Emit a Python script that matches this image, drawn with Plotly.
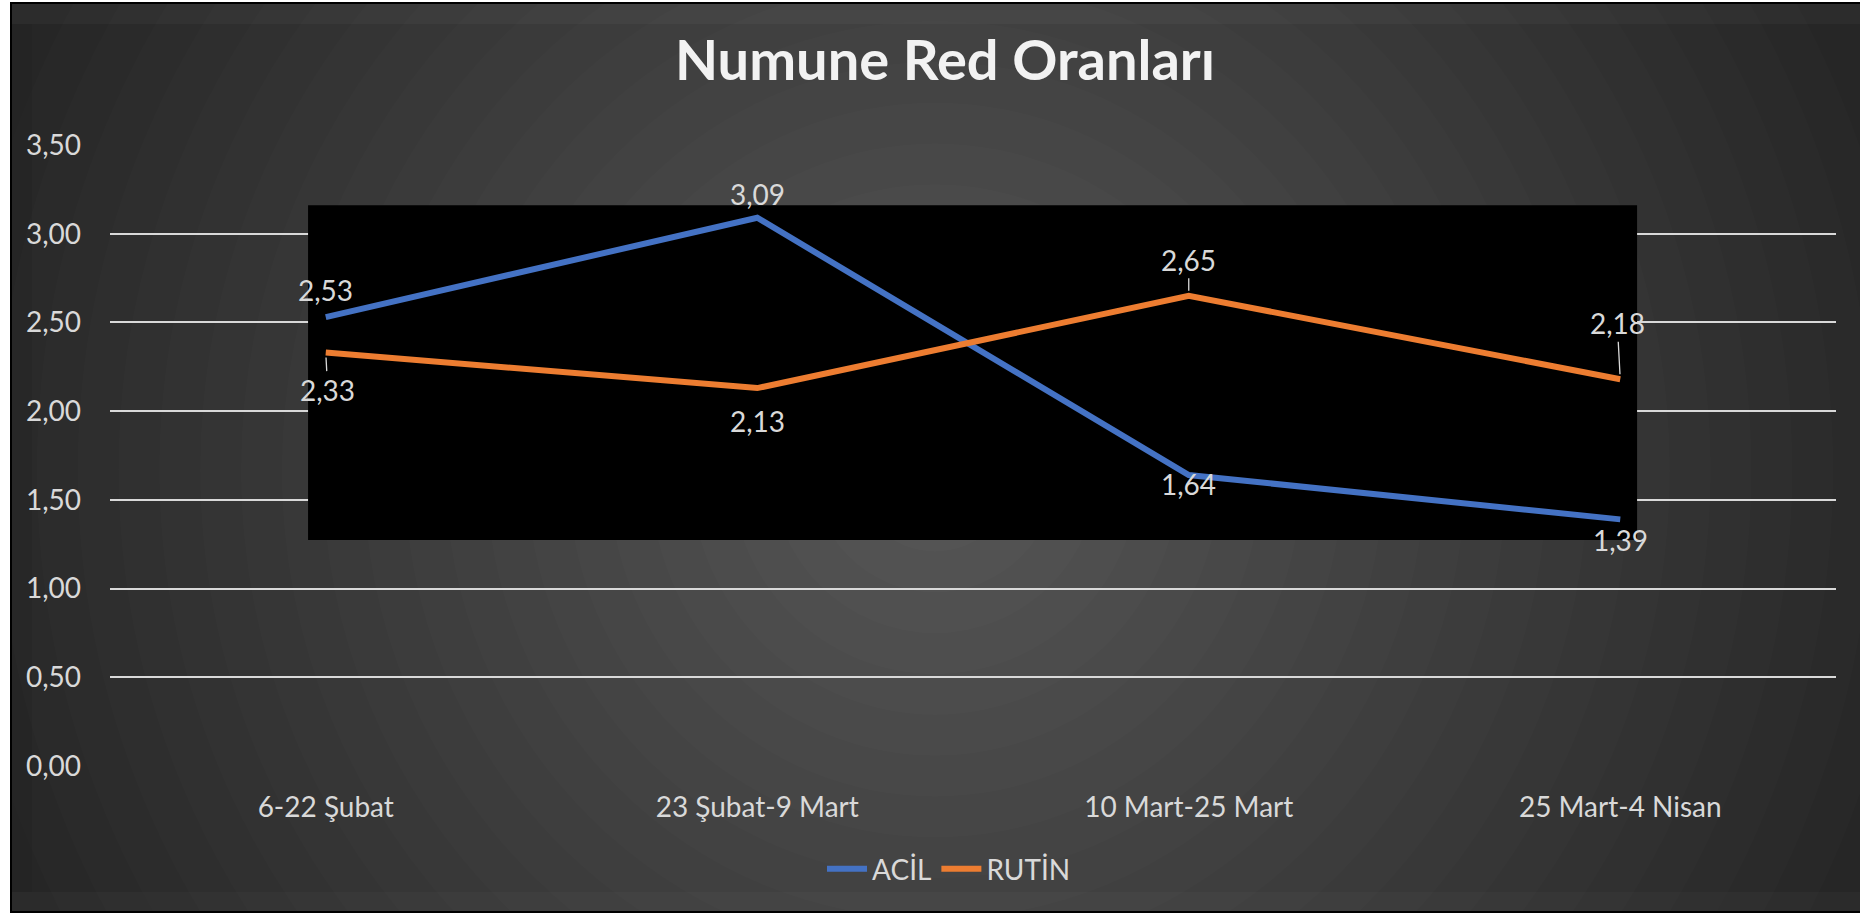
import plotly.graph_objects as go

# ---- data ----
categories = ["6-22 Şubat", "23 Şubat-9 Mart", "10 Mart-25 Mart", "25 Mart-4 Nisan"]
acil = [2.53, 3.09, 1.64, 1.39]
rutin = [2.33, 2.13, 2.65, 2.18]
series_names = ["ACİL", "RUTİN"]
title_text = "Numune Red Oranları"

# ---- style ----
W, H = 1860, 914
ML, MR, MT, MB = 110, 24, 145, 148
PW = W - ML - MR
PH = H - MT - MB
FONT = "Lato"
TXT = "#d9d9d9"
BLUE = "#4472C4"
ORANGE = "#ED7D31"


def px_x(px):
    return (px - ML) / PW


def px_y(py):
    return (H - MB - py) / PH


fig = go.Figure()
fig.add_trace(go.Scatter(x=categories, y=acil, name=series_names[0], mode="lines",
                         line=dict(color=BLUE, width=6), hoverinfo="skip"))
fig.add_trace(go.Scatter(x=categories, y=rutin, name=series_names[1], mode="lines",
                         line=dict(color=ORANGE, width=6), hoverinfo="skip"))

shapes = []
# chart area background + radial gradient
shapes.append(dict(type="rect", xref="paper", yref="paper", layer="below",
                   x0=px_x(11), x1=px_x(1870), y0=px_y(912), y1=px_y(3),
                   fillcolor="#262626", line=dict(width=0)))
cx, cy = px_x(935), px_y(470)
N = 24
R = 980
for k in range(N, 0, -1):
    r = R * k / N
    shapes.append(dict(type="circle", xref="paper", yref="paper", layer="below",
                       xsizemode="pixel", ysizemode="pixel", xanchor=cx, yanchor=cy,
                       x0=-r, x1=r, y0=-r, y1=r,
                       fillcolor="rgba(255,255,255,0.013)", line=dict(width=0)))
# bevel bands
shapes.append(dict(type="rect", xref="paper", yref="paper", layer="below",
                   x0=px_x(11), x1=px_x(1870), y0=px_y(24), y1=px_y(4),
                   fillcolor="rgba(255,255,255,0.03)", line=dict(width=0)))
shapes.append(dict(type="rect", xref="paper", yref="paper", layer="below",
                   x0=px_x(11), x1=px_x(1870), y0=px_y(911), y1=px_y(892),
                   fillcolor="rgba(255,255,255,0.025)", line=dict(width=0)))
shapes.append(dict(type="rect", xref="paper", yref="paper", layer="below",
                   x0=px_x(12), x1=px_x(32), y0=px_y(892), y1=px_y(24),
                   fillcolor="rgba(0,0,0,0.05)", line=dict(width=0)))
shapes.append(dict(type="rect", xref="paper", yref="paper", layer="below",
                   x0=px_x(11), x1=px_x(1870), y0=px_y(912), y1=px_y(3),
                   fillcolor="rgba(0,0,0,0)", line=dict(color="#000000", width=2)))
# black panel behind the lines
shapes.append(dict(type="rect", xref="x", yref="y", layer="between",
                   x0=-0.041, x1=3.039, y0=1.274, y1=3.16,
                   fillcolor="#000000", line=dict(width=0)))

# data labels (offsets in px, positive dy = downward)
label_style_acil = [(0, -27, False), (0, -24, False), (0, 9, False), (0, 21, False)]
label_style_rutin = [(2, 37, True), (0, 33, False), (0, -36, True), (-3, -56, True)]

annotations = []
for vals, styles in ((acil, label_style_acil), (rutin, label_style_rutin)):
    for cat, v, (dx, dy, lead) in zip(categories, vals, styles):
        txt = f"{v:.2f}".replace(".", ",")
        if lead:
            annotations.append(dict(x=cat, y=v, xref="x", yref="y", text=txt,
                                    showarrow=True, arrowhead=0, arrowwidth=1.3,
                                    arrowcolor=TXT, ax=dx, ay=dy, standoff=5,
                                    font=dict(family=FONT, size=28, color=TXT)))
        else:
            annotations.append(dict(x=cat, y=v, xref="x", yref="y", text=txt,
                                    showarrow=False, xshift=dx, yshift=-dy,
                                    font=dict(family=FONT, size=28, color=TXT)))

fig.update_layout(
    width=W, height=H,
    margin=dict(l=ML, r=MR, t=MT, b=MB),
    paper_bgcolor="#ffffff",
    plot_bgcolor="rgba(0,0,0,0)",
    separators=", ",
    shapes=shapes,
    annotations=annotations,
    title=dict(text=title_text, xref="container", yref="container",
               x=945 / W, y=1 - 60 / H, xanchor="center", yanchor="middle",
               font=dict(family=FONT, size=56, color="#f2f2f2", weight="bold")),
    legend=dict(orientation="h", x=px_x(949), y=px_y(869), xanchor="center",
                yanchor="middle", font=dict(family=FONT, size=28, color=TXT),
                bgcolor="rgba(0,0,0,0)", itemwidth=40),
    showlegend=True,
    xaxis=dict(type="category", range=[-0.5, 3.5], showgrid=False, zeroline=False,
               showline=False, ticks="", ticklabelstandoff=22,
               tickfont=dict(family=FONT, size=28, color=TXT)),
    yaxis=dict(range=[0, 3.5], dtick=0.5, tick0=0, tickformat=".2f",
               showgrid=True, gridcolor=TXT, gridwidth=2, zeroline=False,
               showline=False, ticks="", ticklabelstandoff=28,
               tickfont=dict(family=FONT, size=28, color=TXT)),
)

fig.write_html("out.html", config={"displayModeBar": False},
               post_script="document.body.style.margin='0px';")
